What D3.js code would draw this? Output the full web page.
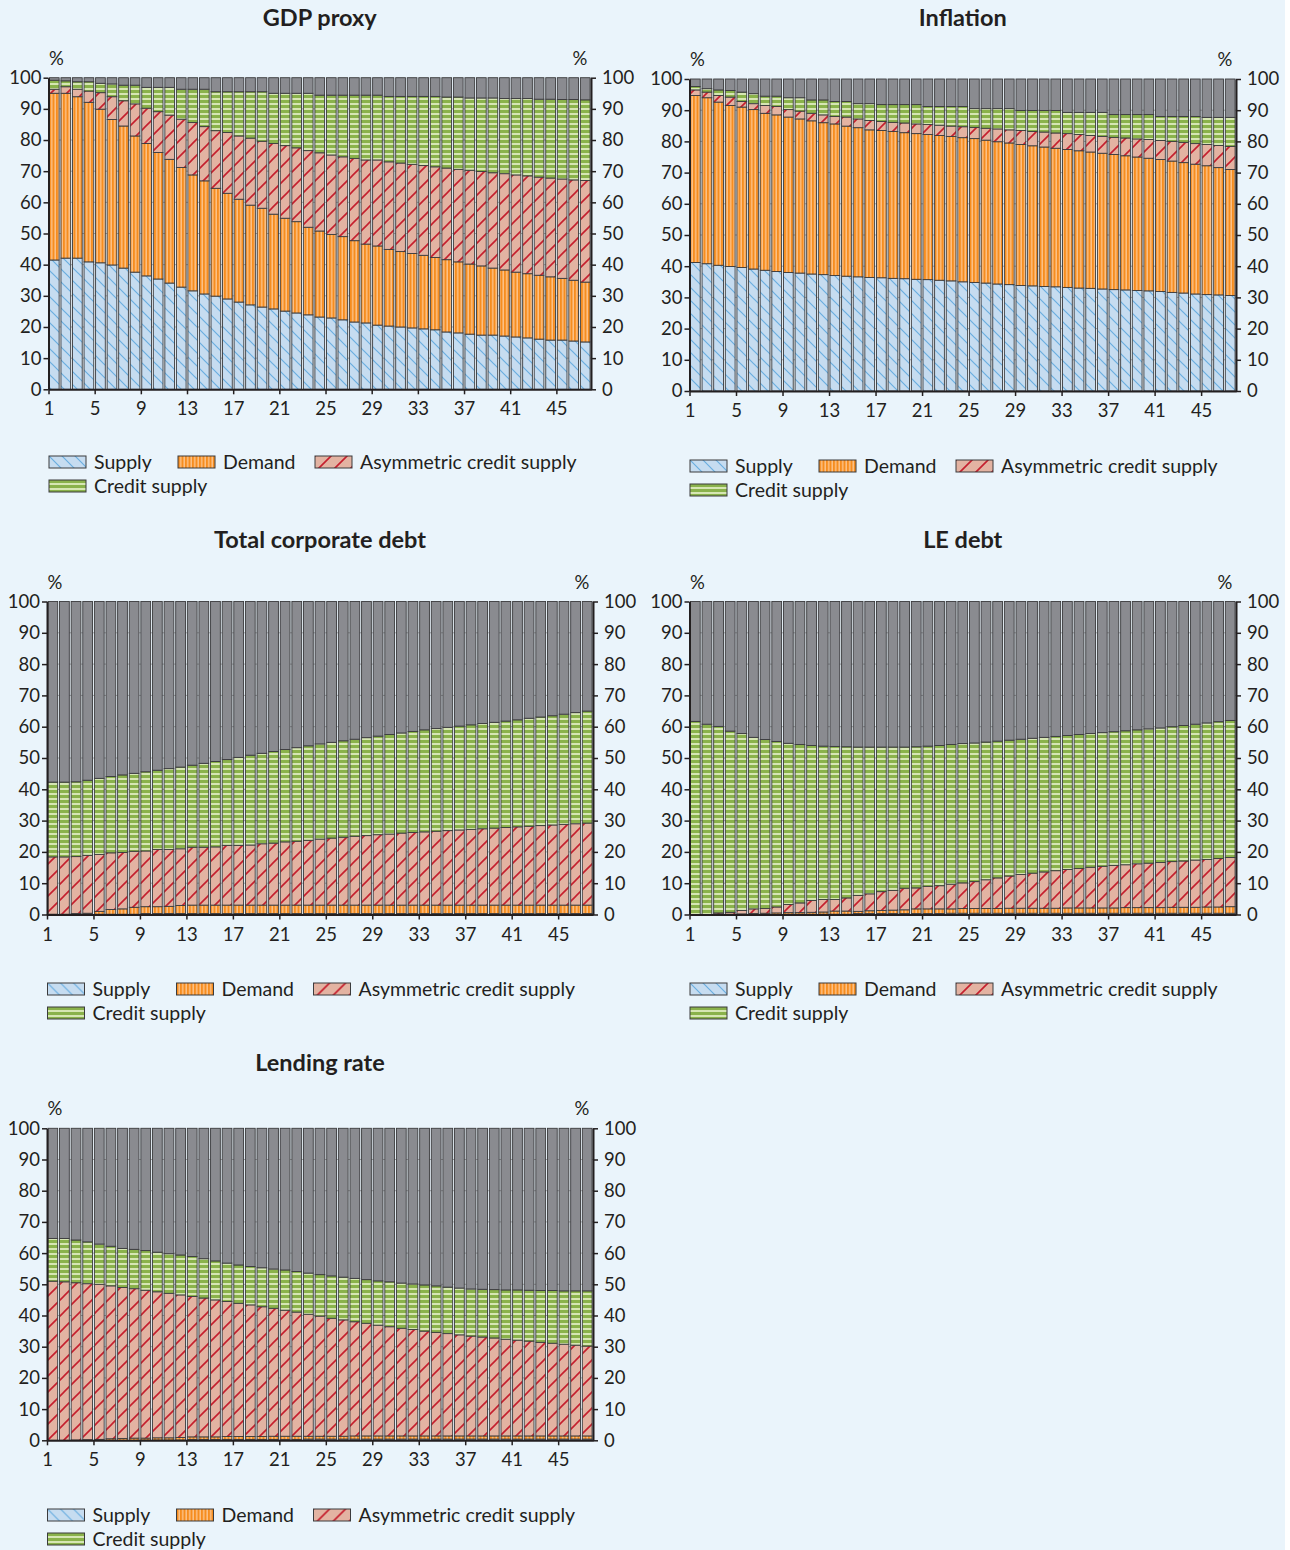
<!DOCTYPE html>
<html>
<head>
<meta charset="utf-8">
<script src="https://cdn.jsdelivr.net/npm/d3@7"></script>
<style>
  body { margin: 0; background: #fff; }
  svg { display: block; font-family: Lato, "Open Sans", sans-serif; }
</style>
</head>
<body>
<svg id="chart" width="1290" height="1550"></svg>
<script>
// periods after the shock (1..47) and the ticks shown on the x axis
var periods = d3.range(1, 48);
var xTicks = [1, 5, 9, 13, 17, 21, 25, 29, 33, 37, 41, 45];
var yTicks = [0, 10, 20, 30, 40, 50, 60, 70, 80, 90, 100];

var seriesKeys = ['supply', 'demand', 'asym', 'credit', 'other'];
var seriesNames = ['Supply', 'Demand', 'Asymmetric credit supply', 'Credit supply'];

// GDP proxy
var gdpSupply = [41.5,42.1,42.1,40.9,40.6,39.9,38.9,37.6,36.4,35.4,34.1,32.8,31.6,30.6,29.9,29.0,28.0,27.1,26.4,25.8,25.1,24.5,23.9,23.2,22.9,22.3,21.6,21.3,20.6,20.3,20.0,19.7,19.4,19.1,18.4,18.1,17.7,17.4,17.4,17.1,16.8,16.5,16.1,15.8,15.8,15.5,15.2];
var gdpDemand = [53.5,52.9,51.8,51.2,49.3,46.7,45.6,43.7,42.5,40.6,39.7,38.4,37.2,36.3,34.6,33.9,33.0,32.0,31.7,30.4,29.8,29.3,28.1,27.6,26.8,26.7,26.1,25.3,25.4,24.6,24.2,23.9,23.6,23.2,23.2,22.8,22.5,22.2,21.5,21.2,20.8,20.6,20.5,20.3,19.8,19.5,19.2];
var gdpAsym = [1.3,2.1,2.4,3.6,5.3,7.3,8.1,10.3,11.3,13.1,14.2,15.5,16.8,17.4,18.5,19.5,20.3,21.5,21.5,22.7,23.3,23.7,24.6,25.1,25.5,25.6,26.4,27.0,27.6,28.1,28.4,28.6,28.8,29.1,29.4,29.7,30.1,30.3,30.6,30.9,31.2,31.4,31.5,31.7,31.9,32.2,32.6];
var gdpCredit = [2.9,1.9,2.4,3.0,3.0,4.1,5.0,6.0,6.7,7.8,8.9,9.6,10.7,12.0,12.5,13.1,14.2,14.9,15.9,16.1,16.8,17.5,18.4,18.5,19.2,19.8,20.3,20.8,20.8,21.0,21.4,21.8,22.2,22.6,22.8,23.2,23.2,23.6,24.0,24.1,24.5,24.8,25.0,25.3,25.5,25.8,25.9];
var gdpOther = [0.8,1.0,1.3,1.3,1.8,2.0,2.4,2.4,3.1,3.1,3.1,3.7,3.7,3.7,4.5,4.5,4.5,4.5,4.5,5.0,5.0,5.0,5.0,5.6,5.6,5.6,5.6,5.6,5.6,6.0,6.0,6.0,6.0,6.0,6.2,6.2,6.5,6.5,6.5,6.7,6.7,6.7,6.9,6.9,7.0,7.0,7.1];

// Inflation
var infSupply = [41.2,40.8,40.3,39.9,39.6,39.1,38.7,38.3,38.0,37.8,37.5,37.3,37.0,36.8,36.6,36.4,36.3,36.1,36.0,35.8,35.7,35.5,35.3,35.0,34.8,34.6,34.3,34.1,33.8,33.7,33.5,33.4,33.2,33.0,32.9,32.7,32.5,32.4,32.2,32.1,31.9,31.6,31.4,31.1,30.9,30.8,30.6];
var infDemand = [53.5,53.2,52.3,51.6,51.4,51.1,50.3,50.2,49.8,49.4,49.1,48.7,48.6,48.1,47.8,47.3,47.2,47.1,46.8,46.7,46.5,46.4,46.3,46.2,46.1,45.8,45.6,45.4,45.2,44.9,44.7,44.4,44.2,44.0,43.7,43.5,43.3,43.0,42.8,42.5,42.3,42.1,41.8,41.6,41.3,40.8,40.4];
var infAsym = [1.8,1.8,2.1,2.7,1.8,1.9,2.5,2.7,2.4,2.5,2.4,2.5,2.4,2.9,2.8,3.0,2.9,2.9,3.1,3.1,3.2,3.3,3.3,3.5,3.6,3.8,4.1,4.2,4.5,4.6,4.8,4.9,5.1,5.2,5.3,5.4,5.5,5.7,5.8,6.0,6.1,6.3,6.5,6.6,6.8,7.1,7.4];
var infCredit = [1.1,1.1,1.8,2.1,3.0,3.2,3.0,3.3,3.8,4.3,4.3,4.8,4.8,5.0,4.9,5.4,5.4,5.7,5.9,6.2,5.8,6.0,6.3,6.5,6.0,6.3,6.5,6.8,6.4,6.7,6.9,7.2,6.8,7.1,7.4,7.7,7.3,7.5,7.8,8.0,7.7,8.0,8.3,8.7,8.7,9.0,9.3];
var infOther = [2.4,3.1,3.5,3.7,4.2,4.7,5.5,5.5,6.0,6.0,6.7,6.7,7.2,7.2,7.9,7.9,8.2,8.2,8.2,8.2,8.8,8.8,8.8,8.8,9.5,9.5,9.5,9.5,10.1,10.1,10.1,10.1,10.7,10.7,10.7,10.7,11.4,11.4,11.4,11.4,12.0,12.0,12.0,12.0,12.3,12.3,12.3];

// Total corporate debt
var corpSupply = [0.1,0.1,0.1,0.1,0.1,0.1,0.1,0.1,0.3,0.3,0.3,0.3,0.3,0.3,0.3,0.3,0.3,0.3,0.3,0.3,0.3,0.3,0.3,0.3,0.3,0.3,0.3,0.3,0.3,0.3,0.3,0.3,0.3,0.3,0.3,0.3,0.3,0.3,0.3,0.3,0.3,0.3,0.3,0.3,0.3,0.3,0.3];
var corpDemand = [0.0,0.0,0.2,0.3,0.9,1.5,1.7,2.2,2.2,2.2,2.3,2.6,2.7,2.7,2.7,2.7,2.7,2.7,2.7,2.7,2.7,2.7,2.7,2.7,2.7,2.7,2.7,2.7,2.7,2.7,2.7,2.7,2.7,2.7,2.7,2.7,2.7,2.7,2.7,2.7,2.7,2.7,2.7,2.7,2.7,2.7,2.7];
var corpAsym = [18.3,18.3,18.2,18.5,18.2,18.1,18.0,17.9,17.8,18.3,18.2,18.1,18.5,18.5,18.6,19.1,19.1,19.2,19.6,19.8,20.2,20.4,20.7,21.1,21.4,21.7,22.0,22.2,22.5,22.7,23.0,23.2,23.4,23.6,23.8,24.0,24.2,24.4,24.6,24.8,25.0,25.2,25.4,25.6,25.8,26.0,26.2];
var corpCredit = [23.9,23.9,23.9,24.0,24.3,24.4,24.8,24.9,25.3,25.3,25.8,26.1,26.2,26.8,27.3,27.4,28.1,28.7,28.9,29.3,29.5,29.9,30.2,30.4,30.6,30.8,31.0,31.3,31.5,31.8,32.0,32.3,32.6,32.8,33.0,33.2,33.4,33.6,33.8,34.0,34.2,34.5,34.7,34.9,35.2,35.5,35.8];
var corpOther = [57.7,57.7,57.6,57.1,56.5,55.9,55.4,54.9,54.4,53.9,53.4,52.9,52.3,51.7,51.1,50.5,49.8,49.1,48.5,47.9,47.3,46.7,46.1,45.5,45.0,44.5,44.0,43.5,43.0,42.5,42.0,41.5,41.0,40.6,40.2,39.8,39.4,39.0,38.6,38.2,37.8,37.3,36.9,36.5,36.0,35.5,35.0];

// LE debt
var leSupply = [0,0,0,0,0,0,0,0,0.1,0.1,0.1,0.1,0.1,0.1,0.3,0.3,0.3,0.3,0.3,0.3,0.3,0.3,0.4,0.4,0.4,0.4,0.4,0.4,0.4,0.4,0.4,0.4,0.4,0.4,0.4,0.4,0.4,0.4,0.4,0.4,0.4,0.4,0.4,0.4,0.4,0.4,0.4];
var leDemand = [0,0,0.1,0.1,0.2,0.3,0.4,0.5,0.5,0.5,0.6,0.7,1.0,1.0,0.7,0.9,1.0,1.1,1.2,1.5,1.5,1.5,1.4,1.5,1.5,1.5,1.5,1.6,1.6,1.6,1.6,1.6,1.7,1.7,1.7,1.7,1.7,1.8,1.8,1.8,1.8,1.9,1.9,1.9,2.0,2.0,2.1];
var leAsym = [0,0,0.4,0.6,1.1,1.5,1.5,1.9,2.6,3.1,3.8,4.0,3.7,4.2,5.1,5.4,6.0,6.3,6.9,6.7,7.2,7.4,7.9,8.2,8.6,9.2,9.8,10.3,10.8,11.2,11.6,12.0,12.3,12.6,13.0,13.3,13.6,13.7,14.0,14.2,14.4,14.6,14.8,15.1,15.2,15.5,15.7];
var leCredit = [61.7,60.8,59.6,57.9,56.5,54.8,54.0,52.9,51.5,50.6,49.5,49.0,48.9,48.3,47.4,46.9,46.2,45.8,45.1,45.1,44.8,44.8,44.6,44.5,44.3,44.0,43.7,43.4,43.2,43.1,43.0,42.9,42.8,42.8,42.7,42.7,42.7,42.8,42.8,42.9,43.0,43.1,43.3,43.4,43.6,43.7,43.8];
var leOther = [38.3,39.2,39.9,41.4,42.2,43.4,44.1,44.7,45.3,45.7,46.0,46.2,46.3,46.4,46.5,46.5,46.5,46.5,46.5,46.4,46.2,46.0,45.7,45.4,45.2,44.9,44.6,44.3,44.0,43.7,43.4,43.1,42.8,42.5,42.2,41.9,41.6,41.3,41.0,40.7,40.4,40.0,39.6,39.2,38.8,38.4,38.0];

// Lending rate
var lendSupply = [0,0,0,0,0,0,0,0,0.1,0.1,0.1,0.1,0.3,0.3,0.3,0.3,0.3,0.3,0.3,0.3,0.3,0.3,0.4,0.4,0.4,0.4,0.4,0.4,0.4,0.4,0.4,0.4,0.4,0.4,0.4,0.4,0.4,0.4,0.4,0.4,0.4,0.4,0.4,0.4,0.4,0.4,0.4];
var lendDemand = [0,0,0.1,0.2,0.3,0.5,0.6,0.7,0.6,0.7,0.7,0.8,0.8,0.8,0.8,0.9,0.9,0.9,0.9,1.0,1.0,1.0,0.9,0.9,0.9,0.9,1.0,1.0,1.0,1.0,1.0,1.0,1.0,1.0,1.0,1.0,1.0,1.0,1.0,1.0,1.0,1.0,1.0,1.0,1.0,1.0,1.0];
var lendAsym = [51.0,50.8,50.4,50.0,49.7,49.0,48.4,47.9,47.4,46.8,46.3,45.7,45.0,44.5,43.9,43.3,42.7,42.2,41.6,41.0,40.4,39.8,39.1,38.5,37.8,37.3,36.6,36.1,35.5,35.0,34.5,34.1,33.6,33.2,32.8,32.4,32.0,31.7,31.4,31.0,30.7,30.4,30.0,29.7,29.4,29.1,28.8];
var lendCredit = [13.7,13.9,13.7,13.4,12.9,12.7,12.5,12.6,12.7,12.7,12.7,12.8,12.8,12.6,12.5,12.3,12.3,12.3,12.5,12.6,12.9,13.0,13.2,13.3,13.6,13.7,13.9,14.0,14.2,14.4,14.5,14.6,14.8,14.9,14.9,15.0,15.1,15.3,15.5,15.8,16.1,16.3,16.6,16.9,17.1,17.4,17.7];
var lendOther = [35.3,35.3,35.8,36.4,37.1,37.8,38.5,38.8,39.2,39.7,40.2,40.6,41.1,41.8,42.5,43.2,43.8,44.3,44.7,45.1,45.4,45.9,46.4,46.9,47.3,47.7,48.1,48.5,48.9,49.2,49.6,49.9,50.2,50.5,50.9,51.2,51.5,51.6,51.7,51.8,51.8,51.9,52.0,52.0,52.1,52.1,52.1];

// panel placement on the page (titleY / legendY are text centres)
var panels = [
  {title: 'GDP proxy', values: [gdpSupply, gdpDemand, gdpAsym, gdpCredit, gdpOther],
   left: 48.5, right: 591, top: 77.7, bottom: 389.3, titleY: 18, legendY: 462},
  {title: 'Inflation', values: [infSupply, infDemand, infAsym, infCredit, infOther],
   left: 689.5, right: 1236, top: 79, bottom: 391, titleY: 18, legendY: 466},
  {title: 'Total corporate debt', values: [corpSupply, corpDemand, corpAsym, corpCredit, corpOther],
   left: 47, right: 593, top: 601.5, bottom: 914.5, titleY: 540, legendY: 989},
  {title: 'LE debt', values: [leSupply, leDemand, leAsym, leCredit, leOther],
   left: 689.5, right: 1236, top: 601.5, bottom: 914.5, titleY: 540, legendY: 989},
  {title: 'Lending rate', values: [lendSupply, lendDemand, lendAsym, lendCredit, lendOther],
   left: 47, right: 593, top: 1128.3, bottom: 1440.3, titleY: 1063, legendY: 1515}
];

var ink = '#231f20';
var svg = d3.select('#chart');
svg.append('rect').attr('width', 1285).attr('height', 1550).attr('fill', '#eaf4fb');

/* fill patterns for the four shocks, the residual is plain grey */
var defs = svg.append('defs');

var pSupply = defs.append('pattern').attr('id', 'pat-supply')
  .attr('patternUnits', 'userSpaceOnUse').attr('width', 13).attr('height', 13);
pSupply.append('rect').attr('width', 13).attr('height', 13).attr('fill', '#c6dcf0');
pSupply.append('path').attr('d', 'M0,0L13,13M-2,11L2,15M11,-2L15,2')
  .attr('stroke', '#6aaee0').attr('stroke-width', 1.2);

var pDemand = defs.append('pattern').attr('id', 'pat-demand')
  .attr('patternUnits', 'userSpaceOnUse').attr('width', 3.5).attr('height', 10);
pDemand.append('rect').attr('width', 3.5).attr('height', 10).attr('fill', '#f68d1f');
pDemand.append('rect').attr('x', 2).attr('width', 1.5).attr('height', 10).attr('fill', '#fcc186');

var pAsym = defs.append('pattern').attr('id', 'pat-asym')
  .attr('patternUnits', 'userSpaceOnUse').attr('width', 16).attr('height', 16);
pAsym.append('rect').attr('width', 16).attr('height', 16).attr('fill', '#e3b3a2');
pAsym.append('path').attr('d', 'M0,16L16,0M-2,2L2,-2M14,18L18,14')
  .attr('stroke', '#c51f2e').attr('stroke-width', 1.6);

var pCredit = defs.append('pattern').attr('id', 'pat-credit')
  .attr('patternUnits', 'userSpaceOnUse').attr('width', 10).attr('height', 5);
pCredit.append('rect').attr('width', 10).attr('height', 5).attr('fill', '#8ab24b');
pCredit.append('rect').attr('y', 3).attr('width', 10).attr('height', 2).attr('fill', '#d6e6b3');

var fills = ['url(#pat-supply)', 'url(#pat-demand)', 'url(#pat-asym)', 'url(#pat-credit)', '#8a8b90'];

function styleAxis(g, size) {
  g.attr('font-family', null).attr('font-size', null);
  g.select('.domain').attr('stroke', ink).attr('stroke-width', 2);
  g.selectAll('.tick line').attr('stroke', ink).attr('stroke-width', 1.5);
  g.selectAll('.tick text').attr('fill', ink).style('font-size', size + 'px');
}

panels.forEach(function(p) {
  var rows = periods.map(function(t, i) {
    var r = {period: t};
    seriesKeys.forEach(function(k, j) { r[k] = p.values[j][i]; });
    return r;
  });
  var layers = d3.stack().keys(seriesKeys)(rows);

  var x = d3.scaleBand().domain(periods).range([p.left, p.right])
    .paddingInner(0.16).paddingOuter(0.08);
  // category boundaries, used for the x ticks (labels sit on the left edge of a period)
  var xb = d3.scaleLinear().domain([1, periods.length + 1]).range([p.left, p.right]);
  var y = d3.scaleLinear().domain([0, 100]).range([p.bottom, p.top]);

  var g = svg.append('g');

  // faint horizontal grid
  g.append('g').selectAll('line')
    .data(yTicks.slice(1, -1))
    .enter().append('line')
    .attr('x1', p.left).attr('x2', p.right)
    .attr('y1', function(d) { return y(d); })
    .attr('y2', function(d) { return y(d); })
    .attr('stroke', '#a3a6aa').attr('stroke-width', 1);

  g.selectAll('.layer')
    .data(layers)
    .enter().append('g')
    .attr('class', 'layer')
    .attr('fill', function(d, i) { return fills[i]; })
    .selectAll('rect')
    .data(function(d) { return d.filter(function(s) { return s[1] - s[0] > 0; }); })
    .enter().append('rect')
    .attr('x', function(d) { return x(d.data.period); })
    .attr('width', x.bandwidth())
    .attr('y', function(d) { return y(d[1]); })
    .attr('height', function(d) { return y(d[0]) - y(d[1]); })
    .attr('stroke', '#3b3b3d')
    .attr('stroke-width', 0.9);

  var yl = g.append('g').attr('transform', 'translate(' + p.left + ',0)')
    .call(d3.axisLeft(y).tickValues(yTicks).tickSize(5).tickSizeOuter(0).tickPadding(2));
  styleAxis(yl, 18.5);
  var yr = g.append('g').attr('transform', 'translate(' + p.right + ',0)')
    .call(d3.axisRight(y).tickValues(yTicks).tickSize(5).tickSizeOuter(0).tickPadding(6));
  styleAxis(yr, 18.5);
  var xa = g.append('g').attr('transform', 'translate(0,' + p.bottom + ')')
    .call(d3.axisBottom(xb).tickValues(xTicks).tickFormat(d3.format('d'))
      .tickSize(5).tickSizeOuter(0).tickPadding(8));
  styleAxis(xa, 18.5);

  g.append('text').attr('x', (p.left + p.right) / 2).attr('y', p.titleY)
    .attr('dy', '0.36em')
    .attr('text-anchor', 'middle').attr('font-weight', 'bold').attr('font-size', 23.5)
    .attr('fill', ink).text(p.title);
  g.append('text').attr('x', p.left + 8).attr('y', p.top - 13)
    .attr('text-anchor', 'middle').attr('font-size', 18.5).attr('fill', ink).text('%');
  g.append('text').attr('x', p.right - 11).attr('y', p.top - 13)
    .attr('text-anchor', 'middle').attr('font-size', 18.5).attr('fill', ink).text('%');

  // legend: three items on the first row, credit supply below
  var legendPos = [[0.5, 0], [129.5, 0], [266.5, 0], [0.5, 24]];
  var lg = g.append('g').attr('transform', 'translate(' + p.left + ',' + (p.legendY - 6) + ')');
  var items = lg.selectAll('g').data(seriesNames).enter().append('g')
    .attr('transform', function(d, i) {
      return 'translate(' + legendPos[i][0] + ',' + legendPos[i][1] + ')';
    });
  items.append('rect').attr('width', 37).attr('height', 12)
    .attr('fill', function(d, i) { return fills[i]; })
    .attr('stroke', '#3b3b3d').attr('stroke-width', 1);
  items.append('text').attr('x', 45).attr('y', 6).attr('dy', '0.35em')
    .attr('font-size', 19.5).attr('fill', ink).text(function(d) { return d; });
});
</script>
</body>
</html>
